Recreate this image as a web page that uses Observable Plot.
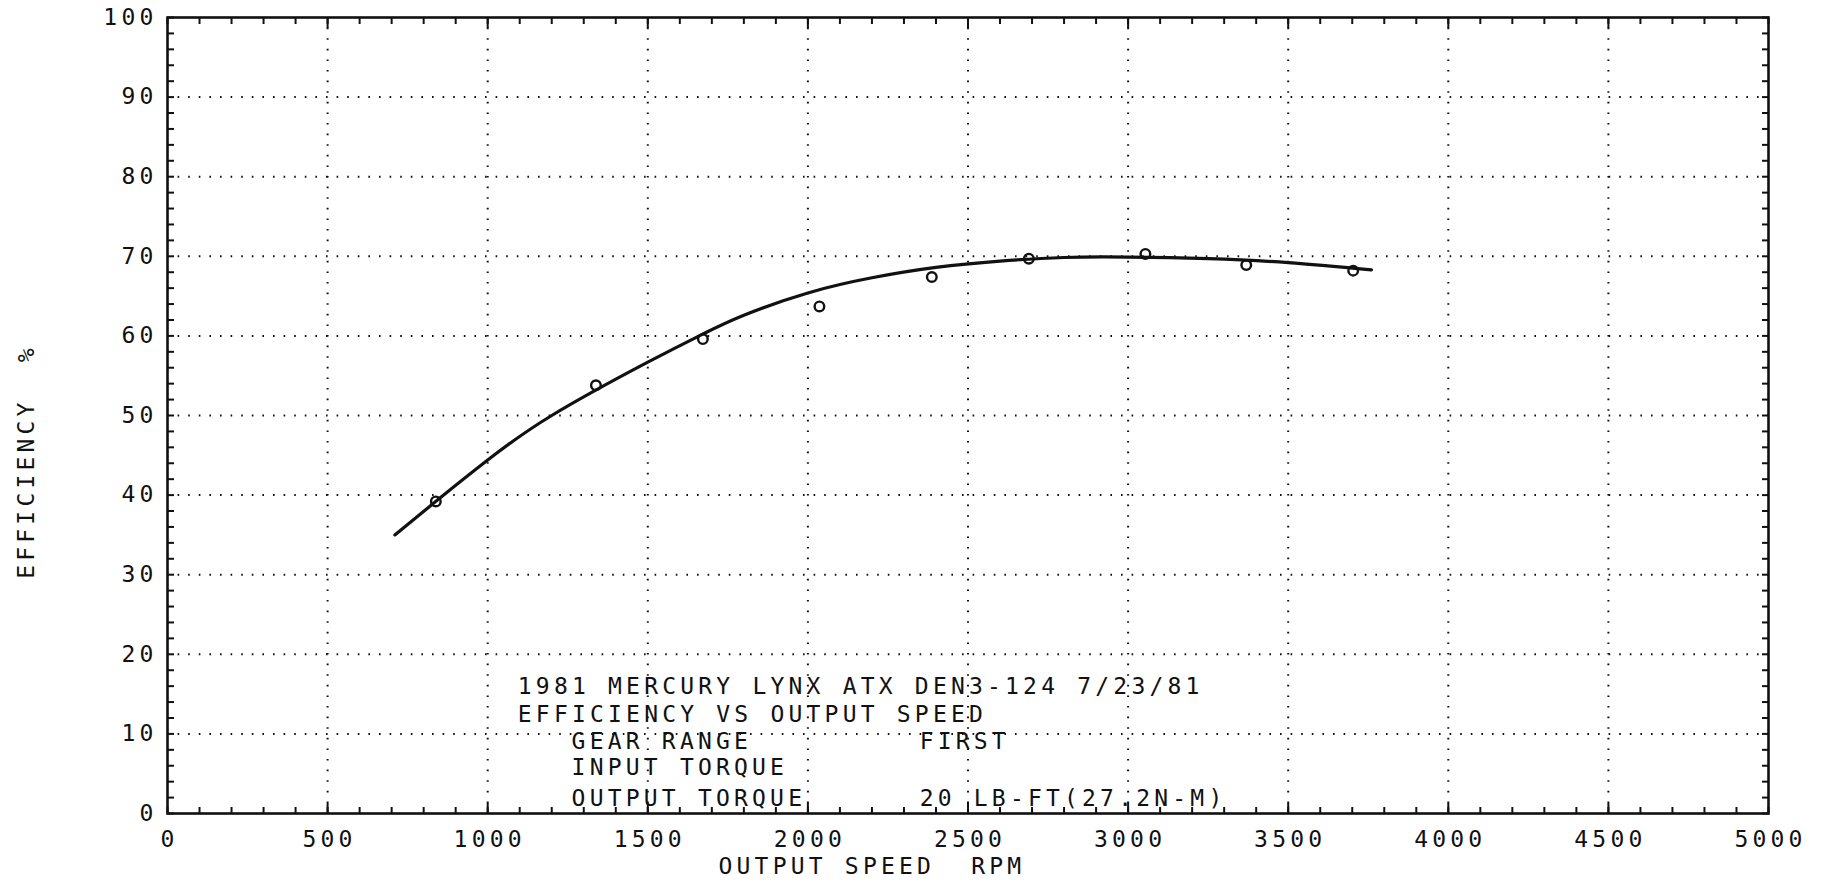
<!DOCTYPE html>
<html>
<head>
<meta charset="utf-8">
<script src="https://cdn.jsdelivr.net/npm/d3@7"></script>
<script src="https://cdn.jsdelivr.net/npm/@observablehq/plot@0.6"></script>
<style>
  html, body { margin: 0; padding: 0; background: #fff; }
  #chart svg { display: block; }
</style>
</head>
<body>
<div id="chart"></div>
<script>
// Measured test points (output speed, efficiency %)
const testRpm = [838, 1338, 1672, 2036, 2387, 2690, 3054, 3369, 3703];
const testEff = [39.2, 53.8, 59.6, 63.7, 67.4, 69.7, 70.3, 68.9, 68.2];

// Fitted curve
const fitRpm = [710, 850, 1000, 1200, 1500, 1670, 1800, 2000, 2200, 2400, 2600, 2800, 3000, 3250, 3500, 3760];
const fitEff = [35.0, 39.6, 44.4, 50.0, 56.7, 60.2, 62.6, 65.4, 67.3, 68.6, 69.4, 69.85, 69.9, 69.7, 69.2, 68.3];

// Axis ticks
const xTicks = [0, 500, 1000, 1500, 2000, 2500, 3000, 3500, 4000, 4500, 5000];
const yTicks = [0, 10, 20, 30, 40, 50, 60, 70, 80, 90, 100];
const xGrid = [500, 1000, 1500, 2000, 2500, 3000, 3500, 4000, 4500];
const yGrid = [10, 20, 30, 40, 50, 60, 70, 80, 90];
const xMinor = d3.range(0, 5001, 100);
const yMinor = d3.range(0, 101, 2);

// Titles
const xLabel = "OUTPUT SPEED  RPM";
const yLabel = "EFFICIENCY  %";

// Annotation block
const noteText = ["1981 MERCURY LYNX ATX DEN3-124 7/23/81", "EFFICIENCY VS OUTPUT SPEED", "GEAR RANGE", "INPUT TORQUE", "OUTPUT TORQUE"];
const noteRpm = [1094, 1094, 1262, 1262, 1262];
const noteEff = [15.95, 12.4, 9.05, 5.8, 1.85];
const valueText = ["FIRST", "20 LB-FT(27.2N-M)"];
const valueRpm = [2349, 2349];
const valueEff = [9.05, 1.85];

const points = testRpm.map((x, i) => ({x, y: testEff[i]}));
const fit = fitRpm.map((x, i) => ({x, y: fitEff[i]}));
const notes = noteText.map((t, i) => ({t, x: noteRpm[i], y: noteEff[i]}));
const values = valueText.map((t, i) => ({t, x: valueRpm[i], y: valueEff[i]}));

const ink = "#111";
const FS = 23;

const chart = Plot.plot({
  width: 1821,
  height: 885,
  marginLeft: 167,
  marginRight: 53,
  marginTop: 17,
  marginBottom: 72,
  style: {
    fontFamily: "'DejaVu Sans Mono', 'Liberation Mono', monospace",
    fontSize: FS + "px",
    letterSpacing: "4.2px",
    color: ink,
    background: "#fff"
  },
  x: {domain: [0, 5000], axis: null},
  y: {domain: [0, 100], axis: null},
  marks: [
    Plot.gridX(xGrid, {stroke: ink, strokeOpacity: 1, strokeWidth: 2, strokeDasharray: "1.6,9"}),
    Plot.gridY(yGrid, {stroke: ink, strokeOpacity: 1, strokeWidth: 2, strokeDasharray: "1.6,9"}),
    // inward minor ticks
    Plot.axisX(xMinor, {anchor: "bottom", tickSize: 6, dy: -6, fill: "none", stroke: ink, strokeWidth: 2}),
    Plot.axisX(xGrid, {anchor: "bottom", tickSize: 10, dy: -10, fill: "none", stroke: ink, strokeWidth: 2}),
    Plot.axisX(xMinor, {anchor: "top", tickSize: 6, dy: 6, fill: "none", stroke: ink, strokeWidth: 2}),
    Plot.axisX(xGrid, {anchor: "top", tickSize: 10, dy: 10, fill: "none", stroke: ink, strokeWidth: 2}),
    Plot.axisY(yMinor, {anchor: "left", tickSize: 7, dx: 7, fill: "none", stroke: ink, strokeWidth: 2}),
    Plot.axisY(yMinor, {anchor: "right", tickSize: 7, dx: -7, fill: "none", stroke: ink, strokeWidth: 2}),
    // tick labels
    Plot.axisX(xTicks, {anchor: "bottom", tickSize: 0, tickPadding: 17, dx: 2, tickFormat: d => String(d), fontSize: FS, fill: ink, label: null}),
    Plot.axisY(yTicks, {anchor: "left", tickSize: 0, tickPadding: 10, tickFormat: d => String(d), fontSize: FS, fill: ink, label: null}),
    Plot.frame({stroke: ink, strokeWidth: 2.6}),
    // axis titles
    Plot.text([xLabel], {frameAnchor: "bottom-left", textAnchor: "start", lineAnchor: "middle", dx: 551, dy: 53, fontSize: FS, fill: ink}),
    Plot.text([yLabel], {frameAnchor: "left", rotate: -90, textAnchor: "middle", lineAnchor: "middle", dx: -141, dy: 46, fontSize: FS, fill: ink}),
    // annotation
    Plot.text(notes, {x: "x", y: "y", text: "t", textAnchor: "start", lineAnchor: "middle", fontSize: FS, fill: ink}),
    Plot.text(values, {x: "x", y: "y", text: "t", textAnchor: "start", lineAnchor: "middle", fontSize: FS, fill: ink}),
    // data
    Plot.line(fit, {x: "x", y: "y", curve: "natural", stroke: ink, strokeWidth: 3.2}),
    Plot.dot(points, {x: "x", y: "y", r: 4.8, stroke: ink, strokeWidth: 2.4, fill: "none"})
  ]
});
document.getElementById("chart").appendChild(chart);
</script>
</body>
</html>
